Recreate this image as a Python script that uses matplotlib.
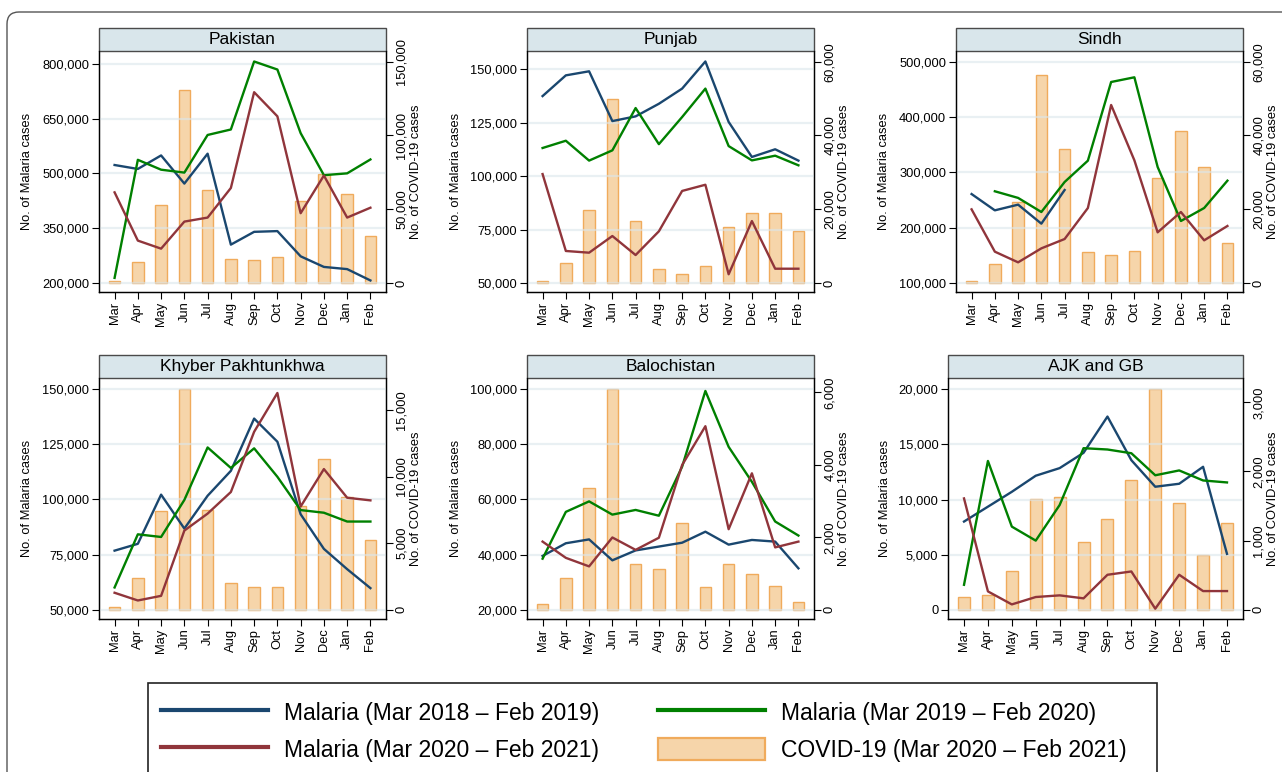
import numpy as np
import matplotlib
matplotlib.use("Agg")
import matplotlib.pyplot as plt
from matplotlib.patches import Rectangle, FancyBboxPatch
from matplotlib.ticker import FuncFormatter

plt.rcParams['font.family'] = ['Liberation Sans', 'DejaVu Sans']

nan = np.nan
months = ['Mar', 'Apr', 'May', 'Jun', 'Jul', 'Aug', 'Sep', 'Oct', 'Nov', 'Dec', 'Jan', 'Feb']

# malaria cases: 2018-19, 2019-20, 2020-21 ; covid cases 2020-21
pak_2018 = [522800, 512000, 549000, 472000, 553800, 305000, 340000, 342000, 273000, 244000, 238000, 207000]
pak_2019 = [214000, 537000, 510000, 502000, 605000, 620000, 806000, 784000, 610000, 495000, 500000, 538000]
pak_2020 = [448000, 316000, 294000, 368000, 379000, 460000, 722000, 656000, 391000, 494000, 379000, 406000]
pak_covid = [1600, 14500, 53000, 130600, 63000, 16300, 15600, 17800, 55800, 73900, 60500, 31600]

pun_2018 = [137500, 147200, 149100, 125800, 128000, 133900, 141000, 153700, 125400, 109000, 112600, 107300]
pun_2019 = [113200, 116600, 107300, 112100, 131900, 115000, 127700, 141000, 114100, 107400, 109600, 105100]
pun_2020 = [101000, 65000, 64200, 72000, 63100, 74200, 93100, 96000, 54100, 79000, 56700, 56700]
pun_covid = [600, 5500, 19900, 50000, 16700, 3700, 2500, 4700, 15300, 19100, 19100, 14200]

sin_2018 = [261000, 231500, 241800, 207400, 268300, nan, nan, nan, nan, nan, nan, nan]
sin_2019 = [nan, 266000, 254000, 228500, 282800, 321400, 463800, 472300, 310000, 212200, 235700, 285200]
sin_2020 = [233300, 156700, 137400, 162700, 179600, 235700, 422200, 322000, 191700, 228500, 177200, 203200]
sin_covid = [600, 5200, 22000, 56500, 36400, 8300, 7600, 8800, 28500, 41300, 31500, 10900]

kp_2018 = [76800, 79900, 102200, 86800, 101700, 113000, 136700, 126200, 93300, 77600, 68400, 59800]
kp_2019 = [60100, 84200, 83000, 99800, 123600, 114300, 123200, 110300, 95200, 94000, 90000, 90000]
kp_2020 = [57700, 54200, 56300, 85900, 93600, 103400, 130700, 148300, 96800, 113800, 100800, 99600]
kp_covid = [200, 2350, 7400, 16600, 7500, 2000, 1700, 1700, 7800, 11350, 8500, 5200]

bal_2018 = [39500, 44100, 45500, 37900, 41500, 42900, 44300, 48300, 43600, 45300, 44700, 35000]
bal_2019 = [38500, 55500, 59300, 54500, 56200, 54100, 71900, 99400, 79100, 66400, 52000, 46900]
bal_2020 = [44700, 38800, 35700, 46200, 41700, 46100, 72500, 86600, 49200, 69500, 42600, 44700]
bal_covid = [160, 880, 3350, 6080, 1260, 1120, 2390, 620, 1250, 980, 640, 210]

ajk_2018 = [8000, 9350, 10700, 12160, 12850, 14240, 17530, 13570, 11160, 11430, 12970, 5070]
ajk_2019 = [2260, 13500, 7540, 6270, 9500, 14660, 14540, 14200, 12200, 12640, 11730, 11550]
ajk_2020 = [10100, 1660, 480, 1150, 1300, 1030, 3170, 3470, 90, 3170, 1690, 1690]
ajk_covid = [180, 210, 560, 1600, 1630, 980, 1310, 1870, 3190, 1540, 790, 1260]

legend_labels = ['Malaria (Mar 2018 \u2013 Feb 2019)', 'Malaria (Mar 2020 \u2013 Feb 2021)',
                 'Malaria (Mar 2019 \u2013 Feb 2020)', 'COVID-19 (Mar 2020 \u2013 Feb 2021)']

# name, series, box in pixels (x0, y0, x1, y1), left lim/ticks, right lim/ticks, ylabel offset px
panels = [
    ('Pakistan', (pak_2018, pak_2019, pak_2020, pak_covid), (99, 51, 386, 292),
     (175400, 834700), np.arange(200000, 800001, 150000), (-6100, 157200), np.arange(0, 150001, 50000), 66),
    ('Punjab', (pun_2018, pun_2019, pun_2020, pun_covid), (527, 51, 814, 292),
     (45800, 158600), np.arange(50000, 150001, 25000), (-2440, 62900), np.arange(0, 60001, 20000), 65),
    ('Sindh', (sin_2018, sin_2019, sin_2020, sin_covid), (956, 51, 1243, 292),
     (83700, 519900), np.arange(100000, 500001, 100000), (-2440, 62900), np.arange(0, 60001, 20000), 66),
    ('Khyber Pakhtunkhwa', (kp_2018, kp_2019, kp_2020, kp_covid), (99, 378, 386, 619),
     (45800, 155100), np.arange(50000, 150001, 25000), (-700, 17400), np.arange(0, 15001, 5000), 66),
    ('Balochistan', (bal_2018, bal_2019, bal_2020, bal_covid), (527, 378, 814, 619),
     (16600, 104100), np.arange(20000, 100001, 20000), (-257, 6394), np.arange(0, 6001, 2000), 65),
    ('AJK and GB', (ajk_2018, ajk_2019, ajk_2020, ajk_covid), (948, 378, 1243, 619),
     (-845, 21030), np.arange(0, 20001, 5000), (-135, 3351), np.arange(0, 3001, 1000), 57),
]

W, H = 1282, 772
blue, green, red = '#1a476f', '#008000', '#90353b'
bar_face, bar_edge = '#f6d5aa', '#f0ab5c'
fs = 9.3
comma = FuncFormatter(lambda v, p: '{:,.0f}'.format(v))

fig = plt.figure(figsize=(W / 100, H / 100), dpi=100)

# outer frame
fig.patches.append(FancyBboxPatch((0.07, -0.5), 14, 7.72 - 0.12 + 0.5,
                                  boxstyle='round,pad=0,rounding_size=0.12',
                                  transform=fig.dpi_scale_trans, facecolor='none',
                                  edgecolor='#555555', linewidth=1.0))

x = np.arange(12)
handles = None
for name, series, box, lim1, ticks1, lim2, ticks2, loff in panels:
    x0, y0, x1, y1 = box
    ax2 = fig.add_axes([x0 / W, 1 - y1 / H, (x1 - x0) / W, (y1 - y0) / H])
    ax = ax2.twinx()
    # ax2 holds the covid bars on the right, ax holds malaria lines on the left
    ax2.yaxis.tick_right()
    ax2.yaxis.set_label_position('right')
    ax.yaxis.tick_left()
    ax.yaxis.set_label_position('left')

    bars = ax2.bar(x, series[3], width=0.5, color=bar_face, edgecolor=bar_edge, linewidth=1.0)
    l1, = ax.plot(x, series[0], color=blue, lw=1.7)
    l2, = ax.plot(x, series[1], color=green, lw=1.7)
    l3, = ax.plot(x, series[2], color=red, lw=1.7)
    if handles is None:
        handles = [l1, l3, l2, bars]

    ax.set_xlim(-0.67, 11.67)
    ax.set_ylim(*lim1)
    ax.set_yticks(ticks1)
    ax.yaxis.set_major_formatter(comma)
    ax2.set_ylim(*lim2)
    ax2.set_yticks(ticks2)
    ax2.yaxis.set_major_formatter(comma)
    ax2.set_xticks(x)
    ax2.set_xticklabels(months, rotation=90, fontsize=fs)

    for t in ticks1:
        ax.axhline(t, color='#dbe7ec', lw=1.6, alpha=0.6, zorder=0)

    ax.tick_params(axis='y', labelsize=fs, length=5, width=0.8, pad=2)
    ax2.tick_params(axis='y', labelsize=fs, length=5, width=0.8, pad=2)
    ax2.tick_params(axis='x', length=5, width=0.8, pad=2)
    for lab in ax2.get_yticklabels():
        lab.set_rotation(90)
        lab.set_verticalalignment('center')

    ax.set_ylabel('No. of Malaria cases', fontsize=fs)
    ax.yaxis.set_label_coords(-loff / (x1 - x0), 0.5)
    ax2.set_ylabel('No. of COVID-19 cases', fontsize=fs)
    ax2.yaxis.set_label_coords(1 + 24 / (x1 - x0), 0.5)

    for a in (ax, ax2):
        a.spines['top'].set_visible(False)
        for s in ('left', 'right', 'bottom'):
            a.spines[s].set_linewidth(0.9)

    strip_h = 23 / (y1 - y0)
    ax.add_patch(Rectangle((0, 1), 1, strip_h, transform=ax.transAxes, clip_on=False,
                           facecolor='#d9e6eb', edgecolor='#4a4a4a', linewidth=1.0))
    ax.text(0.5, 1 + strip_h / 2, name, transform=ax.transAxes, ha='center', va='center',
            fontsize=12.5)

# legend box
fig.patches.append(Rectangle((148 / W, -0.05), 1009 / W, (H - 683) / H + 0.05,
                             transform=fig.transFigure, facecolor='white',
                             edgecolor='#222222', linewidth=1.2))
leg = fig.legend(handles, legend_labels, ncol=2, loc='upper left',
                 bbox_to_anchor=(140 / W, 1 - 680 / H), frameon=False, fontsize=16.5,
                 handlelength=4.67, handleheight=1.15, handletextpad=0.7, columnspacing=2.58,
                 labelspacing=0.56)
for ln in leg.get_lines():
    ln.set_linewidth(3.0)
for p in leg.get_patches():
    p.set_linewidth(1.6)

fig.savefig('out.png', dpi=100)
